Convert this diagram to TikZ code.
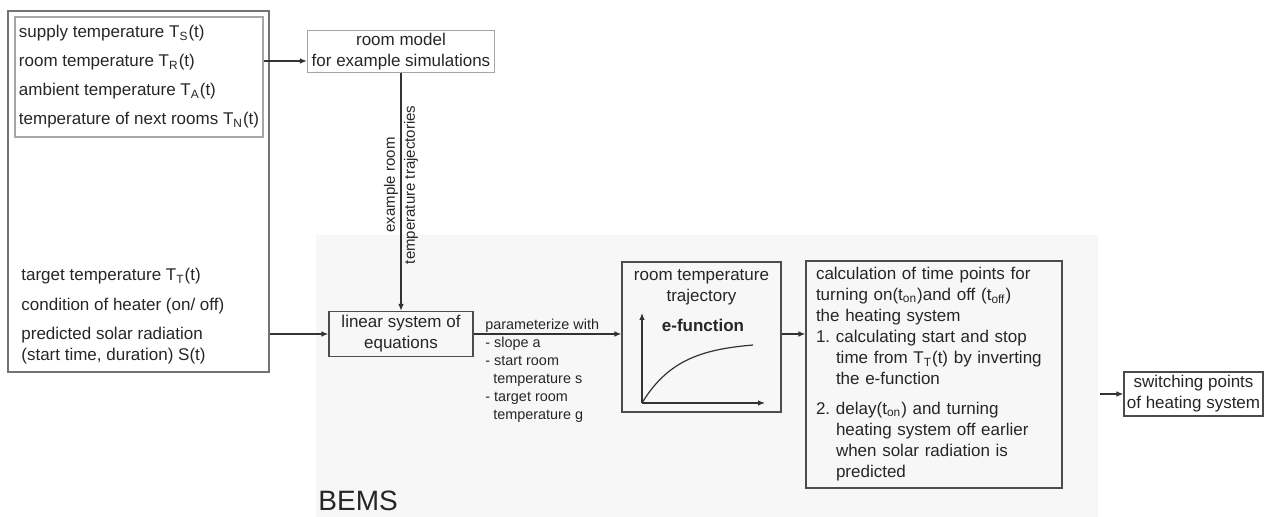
\documentclass[tikz,border=0pt]{standalone}
\usepackage{fontspec}
\setmainfont{Liberation Sans}
\usetikzlibrary{arrows.meta}

\colorlet{box edge}{black!70}
\colorlet{frame edge}{black!55}
\colorlet{model edge}{black!35}
\colorlet{bems area}{black!3}
\colorlet{label text}{black!85}
\tikzset{block/.style={draw=box edge, semithick, align=center, inner sep=0pt},
    lightblock/.style={draw=model edge, semithick, align=center, inner sep=0pt},
    flow/.style={-{Latex[length=3.5pt,width=2.8pt]}, draw=black!80, semithick},
    smalltext/.style={font=\fontsize{7.2}{9}\selectfont, align=left, inner sep=0pt}}

\begin{document}
\begin{tikzpicture}[x=0.5pt, y=-0.5pt,
    every node/.style={font=\fontsize{8.5}{10.5}\selectfont, text=label text}]
        \useasboundingbox (0,0) rectangle (1265,517);

        % BEMS area
        \fill[bems area] (316,235) rectangle (1098,517);
        \node[anchor=base west, font=\fontsize{14}{16}\selectfont, inner sep=0pt] (bems) at (318,511) {BEMS};

        % Inputs
        \node[draw=frame edge, line width=1pt, minimum width=130.5pt, minimum height=180.5pt] (inputs) at (138.5,191.5) {};
        \node[draw=model edge, semithick, minimum width=124pt, minimum height=60pt, align=left, inner sep=0pt,
            font=\fontsize{8.5}{14.5}\selectfont] (measured) at (139,77)
            {supply temperature T\textsubscript{S}(t)\\
             room temperature T\textsubscript{R}(t)\\
             ambient temperature T\textsubscript{A}(t)\\
             temperature of next rooms T\textsubscript{N}(t)};
        \node[anchor=west, align=left, inner sep=0pt] (control) at (21,316)
            {target temperature T\textsubscript{T}(t)\\[4.5pt]
             condition of heater (on/ off)\\[4pt]
             predicted solar radiation\\
             (start time, duration) S(t)};

        % Room model
        \node[lightblock, minimum width=93.5pt, minimum height=21pt] (model) at (401,51.5)
            {room model\\for example simulations};
        \draw[flow] ([yshift=8pt]measured.east) -- ([yshift=8pt]measured.east -| model.west);

        % Linear system
        \node[block, minimum width=72pt, minimum height=22.5pt] (lin) at (401,334)
            {linear system of\\equations};
        \draw[flow] (model.south) -- node[pos=0.47, rotate=90, align=center, inner sep=0pt,
            font=\fontsize{7.5}{10}\selectfont] (trajlabel) {example room\\temperature trajectories} (lin.north);
        \draw[flow] (inputs.east |- lin) -- (lin.west);
        \node[smalltext, anchor=north west] (params) at (485,319)
            {parameterize with\\
             - slope a\\
             - start room\\
             \hspace*{4pt}temperature s\\
             - target room\\
             \hspace*{4pt}temperature g};

        % Room temperature trajectory
        \node[block, minimum width=79.5pt, minimum height=75pt] (traj) at (701.5,337) {};
        \node[align=center, inner sep=0pt] (trajtitle) at (701.5,287) {room temperature\\trajectory};
        \node[font=\fontsize{8.5}{10.5}\selectfont\bfseries, inner sep=0pt] (efunc) at (703,325) {e-function};
        \coordinate (origin) at (642,403);
        \draw[flow] (origin) -- (642,313);
        \draw[flow] (origin) -- (765,403);
        \draw[draw=black!80, semithick] plot[domain=0:111, samples=40, smooth]
            ({642+\x}, {403-61*(1-exp(-3*\x/111))});
        \draw[flow] (lin.east) -- (lin.east -| traj.west);

        % Calculation of switching times
        \node[block, text width=118pt, inner xsep=5pt, minimum height=113.5pt, align=left] (calc) at (934,374.5)
            {calculation of time points for\\
             turning on(t\textsubscript{on})and off (t\textsubscript{off})\\
             the heating system\\
             \makebox[10pt][l]{1.}calculating start and stop\\
             \hspace*{10pt}time from T\textsubscript{T}(t) by inverting\\
             \hspace*{10pt}the e-function\\[4.5pt]
             \makebox[10pt][l]{2.}delay(t\textsubscript{on}) and turning\\
             \hspace*{10pt}heating system off earlier\\
             \hspace*{10pt}when solar radiation is\\
             \hspace*{10pt}predicted};
        \draw[flow] (traj.east |- lin) -- (calc.west |- lin);

        % Switching points
        \node[block, minimum width=69.5pt, minimum height=22pt] (switch) at (1193.5,394)
            {switching points\\of heating system};
        \coordinate (feed) at (1100,394);
        \draw[flow] (feed) -- (switch.west);
    \end{tikzpicture}
\end{document}
